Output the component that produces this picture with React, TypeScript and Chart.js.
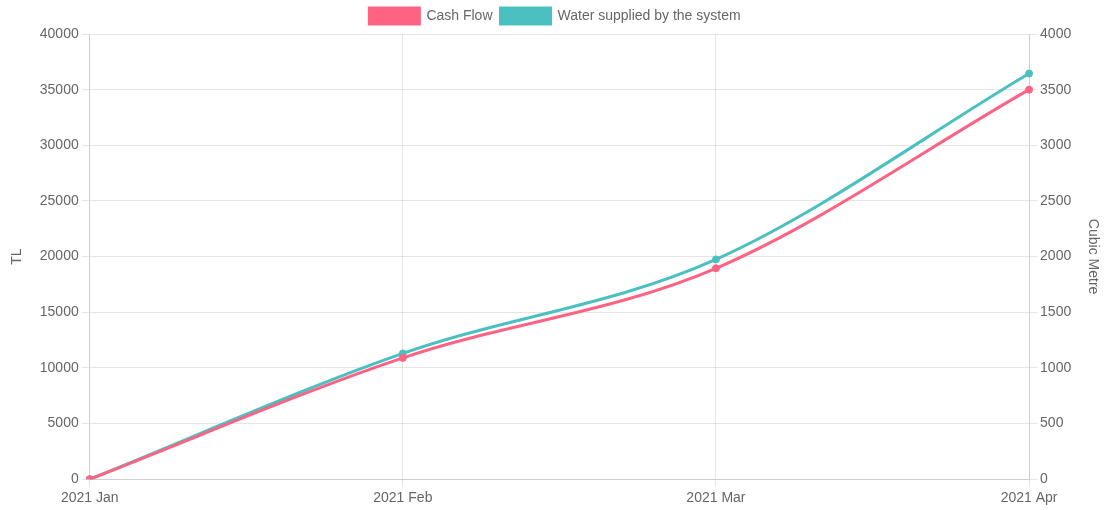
import React, { useEffect, useRef } from "react";
import { Chart, registerables } from "chart.js";

Chart.register(...registerables);

const months = ["2021 Jan", "2021 Feb", "2021 Mar", "2021 Apr"];
const cashFlow = [0, 10900, 18950, 35000];
const waterSupplied = [0, 1130, 1975, 3645];
const tlTicks = [0, 5000, 10000, 15000, 20000, 25000, 30000, 35000, 40000];

export default function App() {
  const ref = useRef<HTMLCanvasElement>(null);

  useEffect(() => {
    if (!ref.current) return;
    const font = { family: "'Liberation Sans', Arial, sans-serif", size: 14 };
    Chart.defaults.color = "#666";
    const plain = (v: any) => String(v);
    const chart = new Chart(ref.current, {
      type: "line",
      data: {
        labels: months,
        datasets: [
          {
            label: "Cash Flow",
            data: cashFlow,
            borderColor: "rgb(255, 99, 132)",
            backgroundColor: "rgb(255, 99, 132)",
            borderWidth: 3,
            pointRadius: 3.5,
            pointBorderWidth: 1,
            tension: 0.4,
            cubicInterpolationMode: "monotone",
            yAxisID: "y",
          },
          {
            label: "Water supplied by the system",
            data: waterSupplied,
            borderColor: "rgb(75, 192, 192)",
            backgroundColor: "rgb(75, 192, 192)",
            borderWidth: 3,
            pointRadius: 3.5,
            pointBorderWidth: 1,
            tension: 0.4,
            cubicInterpolationMode: "monotone",
            yAxisID: "y1",
          },
        ],
      },
      options: {
        responsive: false,
        animation: false,
        layout: { padding: { left: 5, right: 4, top: 0, bottom: 0 } },
        plugins: {
          legend: {
            position: "top",
            labels: { font, boxWidth: 50, boxHeight: 16, padding: 8 },
          },
          tooltip: { enabled: false },
        },
        scales: {
          x: {
            ticks: { font, maxRotation: 0 },
            grid: { color: "rgba(0,0,0,0.1)" },
          },
          y: {
            position: "left",
            min: 0,
            max: 40000,
            afterBuildTicks: (axis: any) => {
              axis.ticks = tlTicks.map((v) => ({ value: v }));
            },
            ticks: { font, callback: plain },
            title: { display: true, text: "TL", font, padding: { top: 4, bottom: 11 } },
            grid: { color: "rgba(0,0,0,0.1)" },
          },
          y1: {
            position: "right",
            min: 0,
            max: 4000,
            ticks: { font, stepSize: 500, callback: plain },
            title: { display: true, text: "Cubic Metre", font, padding: { top: 4, bottom: 10 } },
            grid: { drawOnChartArea: false, color: "rgba(0,0,0,0.1)" },
          },
        },
      },
    });
    return () => chart.destroy();
  }, []);

  return (
    <div style={{ position: "fixed", left: 0, top: 0, width: 1109, height: 510, background: "#fff" }}>
      <canvas ref={ref} width={1109} height={510} />
    </div>
  );
}
